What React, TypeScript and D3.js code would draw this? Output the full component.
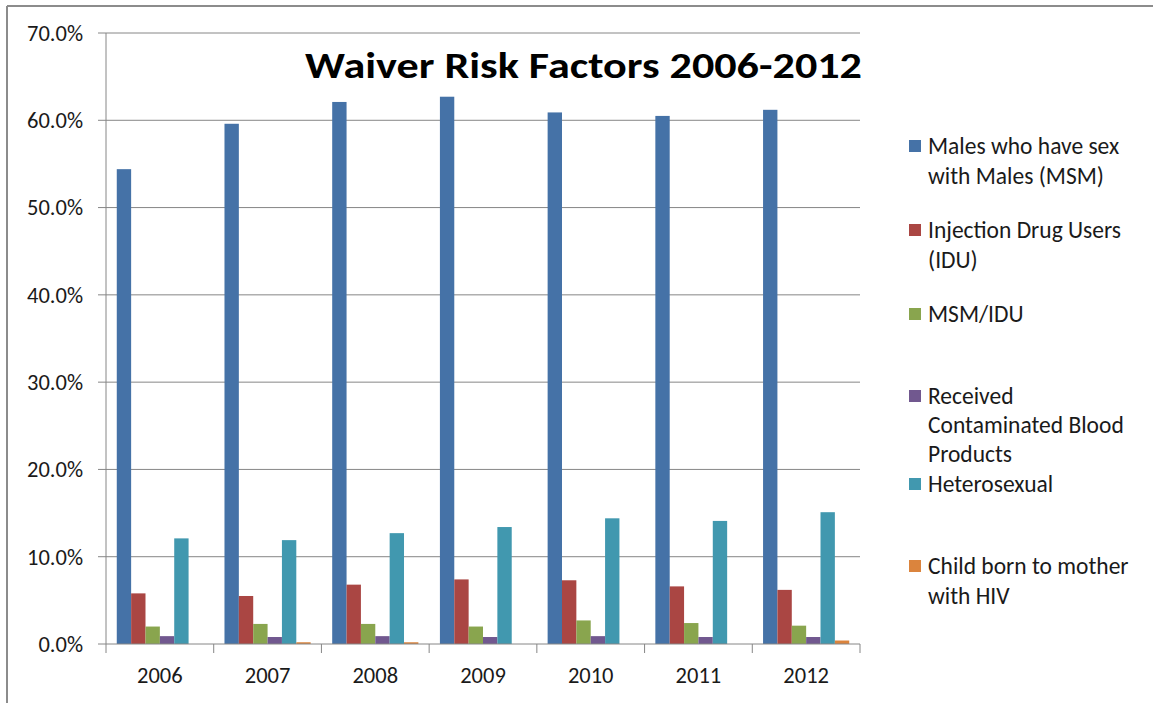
import React from "react";
import * as d3 from "d3";

const years = ["2006", "2007", "2008", "2009", "2010", "2011", "2012"];
const seriesNames = [
  "Males who have sex with Males (MSM)",
  "Injection Drug Users (IDU)",
  "MSM/IDU",
  "Received Contaminated Blood Products",
  "Heterosexual",
  "Child born to mother with HIV",
];
// legend text split as in the original
const legendLines = [
  ["Males who have sex", "with Males (MSM)"],
  ["Injection Drug Users", "(IDU)"],
  ["MSM/IDU"],
  ["Received", "Contaminated Blood", "Products"],
  ["Heterosexual"],
  ["Child born to mother", "with HIV"],
];
const msm = [54.4, 59.6, 62.1, 62.7, 60.9, 60.5, 61.2];
const idu = [5.8, 5.5, 6.8, 7.4, 7.3, 6.6, 6.2];
const msmIdu = [2.0, 2.3, 2.3, 2.0, 2.7, 2.4, 2.1];
const blood = [0.9, 0.8, 0.9, 0.8, 0.9, 0.8, 0.8];
const hetero = [12.1, 11.9, 12.7, 13.4, 14.4, 14.1, 15.1];
const child = [0.0, 0.2, 0.2, 0.0, 0.0, 0.0, 0.4];
const yTicks = [0, 10, 20, 30, 40, 50, 60, 70];
const colors = ["#4572A7", "#AA4643", "#89A54E", "#71588F", "#4198AF", "#DB843D"];

const series = [msm, idu, msmIdu, blood, hetero, child];

const W = 1153;
const H = 703;
const left = 106;
const right = 860;
const top = 33;
const bottom = 644;
const font = "Calibri, Carlito, 'Open Sans', 'Noto Sans', sans-serif";

export default function App() {
  const x = d3.scaleBand().domain(years).range([left, right]);
  // 6 bars per year, gap of 1.5 bar widths split on both sides
  const inner = d3
    .scaleBand()
    .domain(d3.range(series.length).map(String))
    .range([0, x.bandwidth()])
    .paddingOuter(0.75)
    .paddingInner(0);
  const y = d3.scaleLinear().domain([0, 70]).range([bottom, top]);
  const boundaries = years.map((yr) => x(yr) as number).concat([right]);

  return (
    <div style={{ position: "fixed", left: 0, top: 0 }}>
      <svg width={W} height={H} style={{ display: "block", background: "#fff" }}>
        {/* outer frame */}
        <line x1={7} y1={6} x2={W} y2={6} stroke="#8c8c8c" strokeWidth={2} />
        <line x1={7} y1={6} x2={7} y2={H} stroke="#8c8c8c" strokeWidth={2} />

        {/* gridlines + y ticks */}
        {yTicks.map((t) => (
          <g key={t}>
            {t > 0 && (
              <line x1={left} x2={right} y1={y(t)} y2={y(t)} stroke="#868686" strokeWidth={1} />
            )}
            <line x1={98} x2={left} y1={y(t)} y2={y(t)} stroke="#868686" />
            <text
              x={83}
              y={y(t)}
              dy="0.35em"
              textAnchor="end"
              fontFamily={font}
              fontSize={22.5}
              fill="#1a1a1a"
            >
              {t.toFixed(1) + "%"}
            </text>
          </g>
        ))}

        {/* bars */}
        {series.map((vals, si) =>
          vals.map((v, i) => {
            const bx = (x(years[i]) as number) + (inner(String(si)) as number);
            return (
              <rect
                key={si + "-" + i}
                x={bx}
                y={y(v)}
                width={inner.bandwidth()}
                height={bottom - y(v)}
                fill={colors[si]}
              />
            );
          })
        )}

        {/* axes */}
        <line x1={left} x2={left} y1={top} y2={bottom} stroke="#868686" />
        <line x1={left} x2={right} y1={bottom} y2={bottom} stroke="#868686" />
        {boundaries.map((b, i) => (
          <line key={i} x1={b} x2={b} y1={bottom} y2={bottom + 9} stroke="#868686" />
        ))}
        {years.map((yr) => (
          <text
            key={yr}
            x={(x(yr) as number) + x.bandwidth() / 2}
            y={683}
            textAnchor="middle"
            fontFamily={font}
            fontSize={22.5}
            fill="#1a1a1a"
          >
            {yr}
          </text>
        ))}

        {/* title */}
        <text
          x={305}
          y={78}
          fontFamily={font}
          fontWeight="bold"
          fontSize={36}
          textLength={557}
          lengthAdjust="spacingAndGlyphs"
          fill="#000"
        >
          Waiver Risk Factors 2006-2012
        </text>

        {/* legend */}
        {seriesNames.map((name, i) => {
          const cy = 146 + i * 84 + (i === 3 ? -2 : i === 4 ? 2 : 0);
          const step = i === 3 ? 29 : 30;
          return (
            <g key={name}>
              <rect x={909} y={cy - 6} width={12} height={12} fill={colors[i]} />
              {legendLines[i].map((ln, j) => (
                <text
                  key={j}
                  x={928}
                  y={cy + j * step}
                  dy="0.35em"
                  fontFamily={font}
                  fontSize={23.5}
                  fill="#1a1a1a"
                >
                  {ln}
                </text>
              ))}
            </g>
          );
        })}
      </svg>
    </div>
  );
}
